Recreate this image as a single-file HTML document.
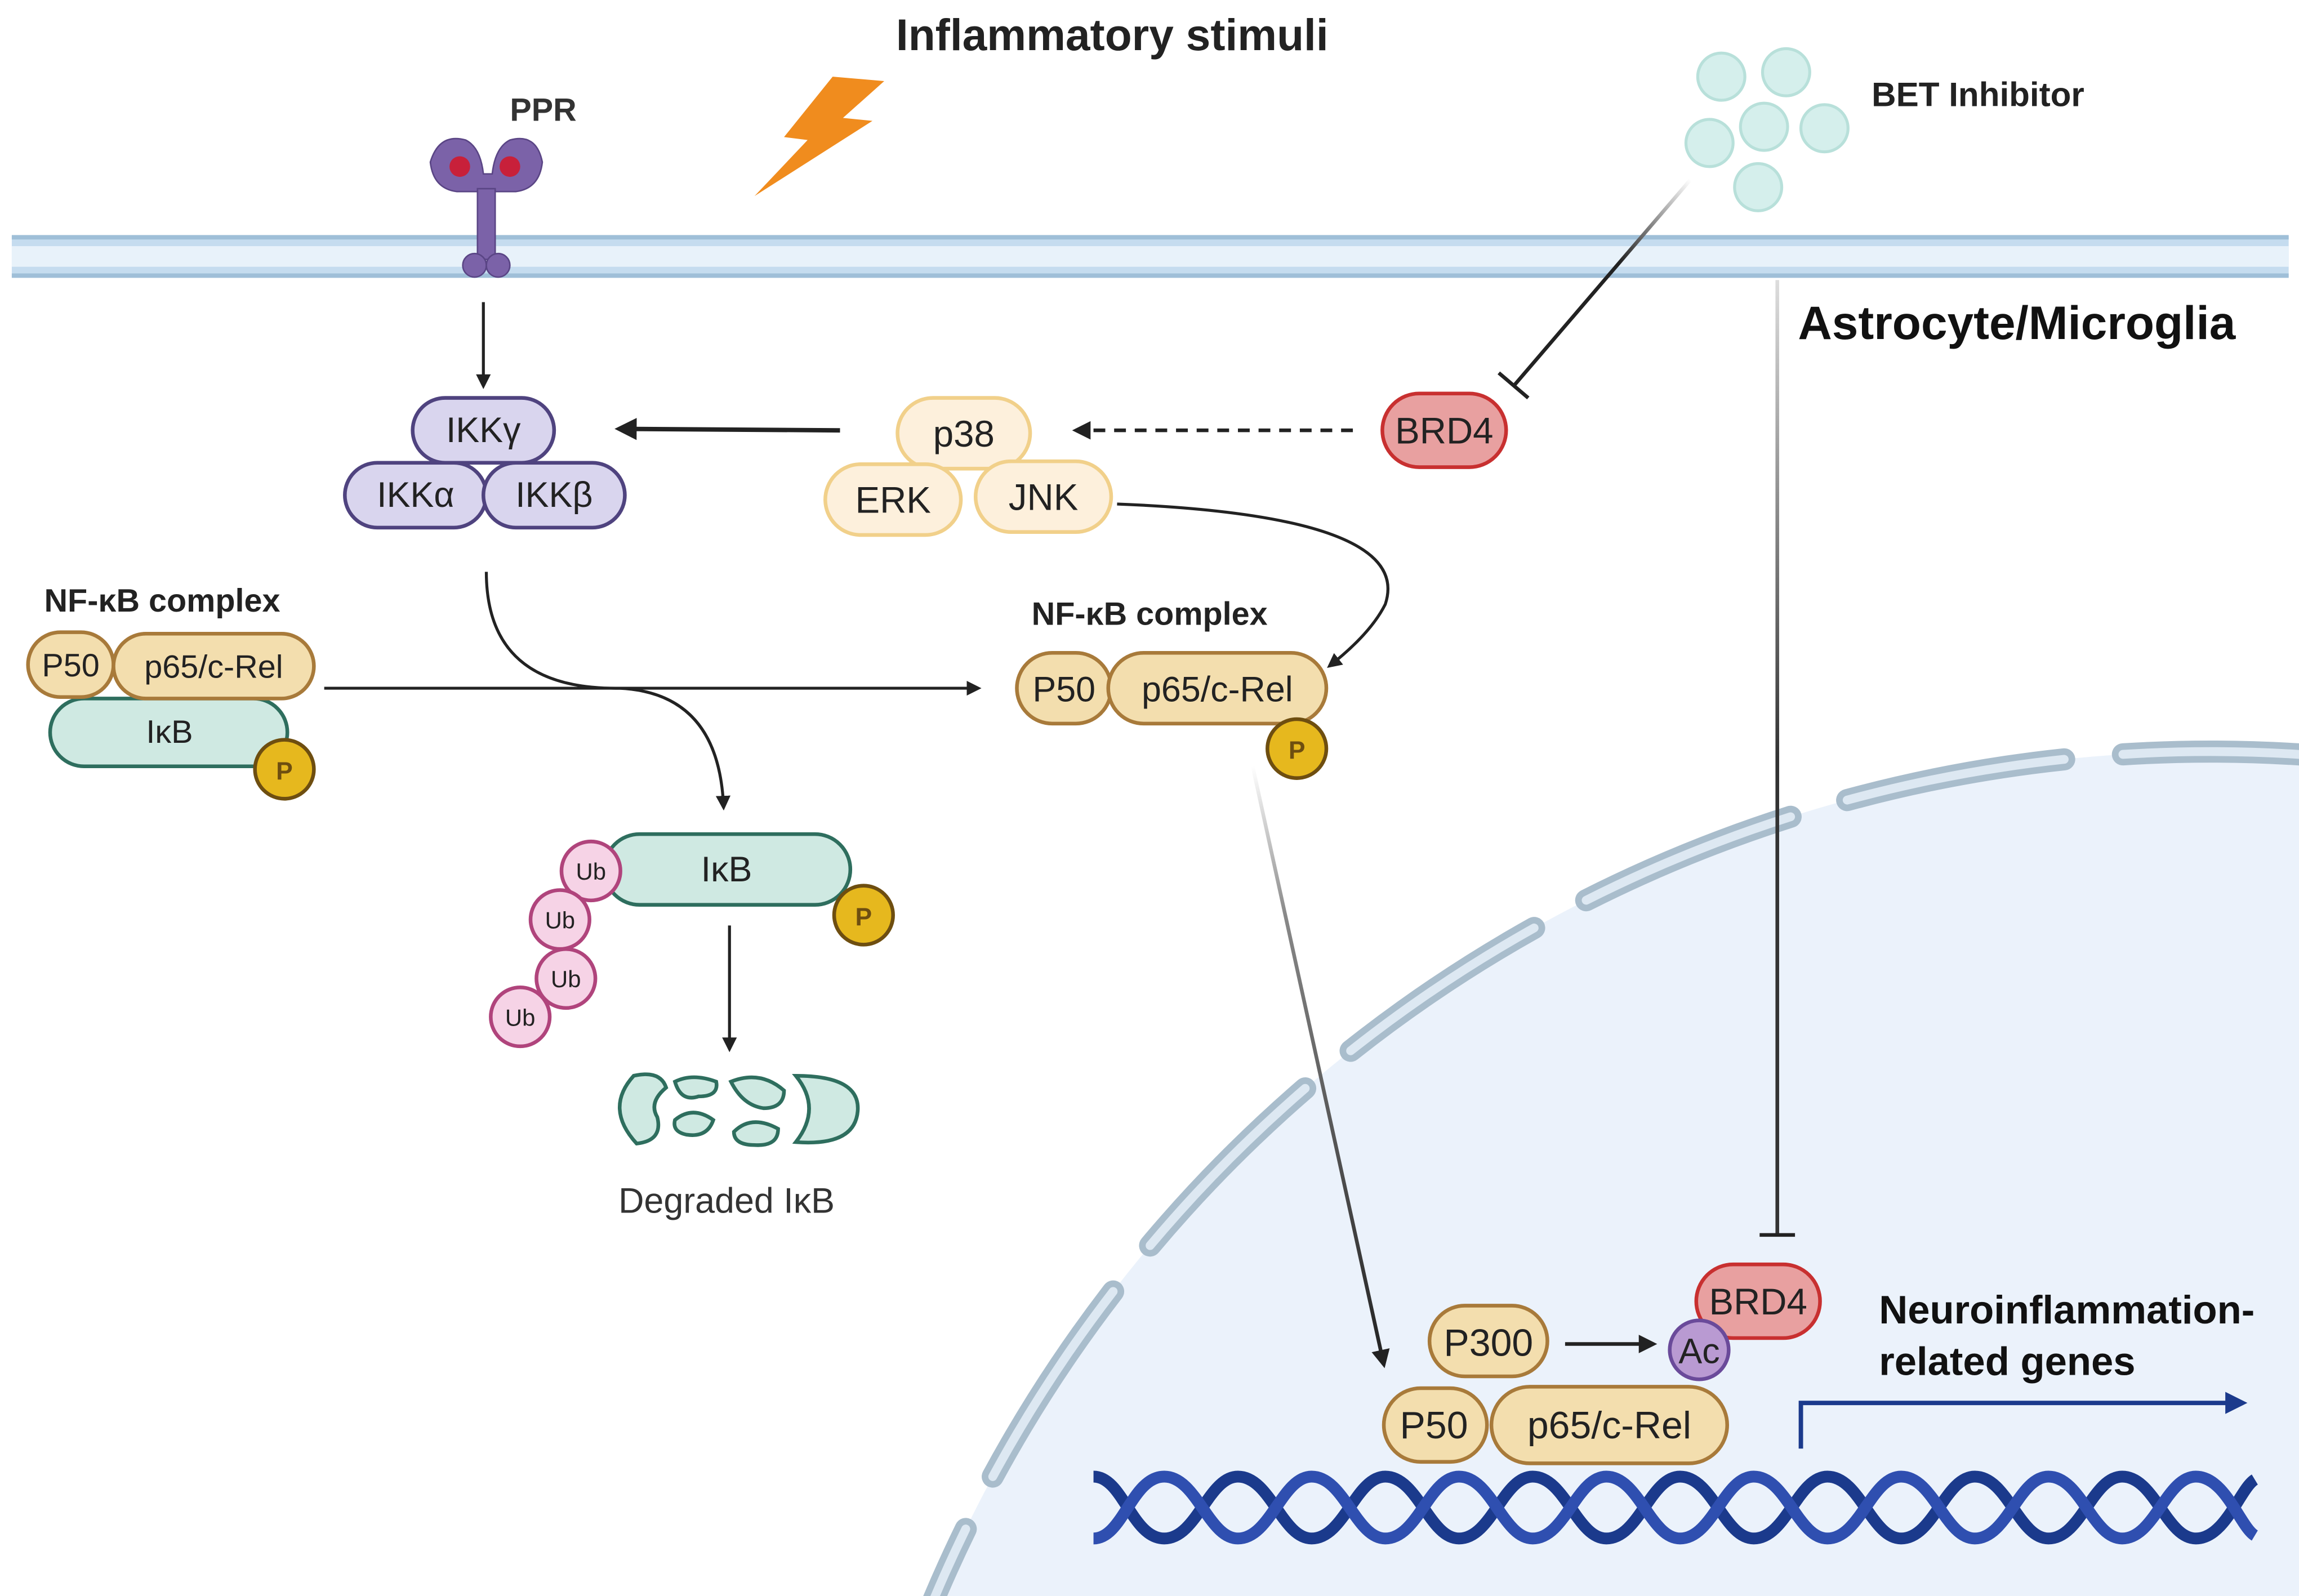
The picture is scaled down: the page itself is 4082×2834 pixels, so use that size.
<!DOCTYPE html>
<html><head><meta charset="utf-8"><style>html,body{margin:0;padding:0;background:#fff;overflow:hidden;width:4082px;height:2834px}svg{display:block}</style></head>
<body>
<svg width="4082" height="2834" viewBox="0 0 1560 1083" xmlns="http://www.w3.org/2000/svg" font-family="'Liberation Sans', 'DejaVu Sans', sans-serif">
<defs>
<marker id="ah" viewBox="0 0 10 10" refX="8" refY="5" markerWidth="5" markerHeight="5" orient="auto"><path d="M0,0 L10,5 L0,10 z" fill="#222"/></marker>
<marker id="ahb" viewBox="0 0 10 10" refX="8" refY="5" markerWidth="5" markerHeight="5" orient="auto"><path d="M0,0 L10,5 L0,10 z" fill="#1b3a8c"/></marker>
<linearGradient id="g1" gradientUnits="userSpaceOnUse" x1="1147" y1="122" x2="1027" y2="262"><stop offset="0" stop-color="#fff"/><stop offset="0.4" stop-color="#222"/></linearGradient>
<linearGradient id="g2" gradientUnits="userSpaceOnUse" x1="850" y1="520" x2="939" y2="926"><stop offset="0" stop-color="#fff"/><stop offset="0.25" stop-color="#888"/><stop offset="1" stop-color="#222"/></linearGradient>
<linearGradient id="g3" gradientUnits="userSpaceOnUse" x1="0" y1="190" x2="0" y2="838"><stop offset="0" stop-color="#ddd"/><stop offset="0.5" stop-color="#333"/></linearGradient>
</defs>
<rect width="1560" height="1083" fill="#fff"/>
<circle cx="1500" cy="1450" r="940" fill="#ebf2fb"/>
<circle cx="1500" cy="1450" r="940" fill="none" stroke="#a9bdcc" stroke-width="15" stroke-dasharray="150 40" stroke-linecap="round"/>
<circle cx="1500" cy="1450" r="940" fill="none" stroke="#dde8f2" stroke-width="6" stroke-dasharray="150 40" stroke-linecap="round"/>
<rect x="8" y="160" width="1545" height="28" fill="#c5dcef"/>
<rect x="8" y="167" width="1545" height="14" fill="#e8f2fa"/>
<line x1="8" y1="161" x2="1553" y2="161" stroke="#9fbfd8" stroke-width="3"/>
<line x1="8" y1="187" x2="1553" y2="187" stroke="#9fbfd8" stroke-width="3"/>
<g fill="#7b62a8" stroke="#5a4585" stroke-width="1">
<path d="M292,110 Q298,90 316,95 Q326,100 328,118 L334,118 Q336,100 346,95 Q364,90 368,110 Q366,128 350,130 L336,130 L334,150 L326,150 L324,130 L310,130 Q294,128 292,110z"/>
<rect x="324" y="128" width="12" height="48"/>
<ellipse cx="322" cy="180" rx="8" ry="8"/><ellipse cx="338" cy="180" rx="8" ry="8"/>
</g>
<circle cx="312" cy="113" r="7" fill="#c8203a"/><circle cx="346" cy="113" r="7" fill="#c8203a"/>
<text x="346" y="82" font-size="22" font-weight="bold" fill="#333">PPR</text>
<path d="M565,52 L600,55 L572,80 L592,82 L512,133 L548,95 L532,93 Z" fill="#f08c1e"/>
<text x="608" y="34" font-size="30" font-weight="bold" fill="#222">Inflammatory stimuli</text>
<g fill="#d5efec" stroke="#b8e0da" stroke-width="2">
<circle cx="1168" cy="52" r="16"/><circle cx="1212" cy="49" r="16"/><circle cx="1160" cy="97" r="16"/><circle cx="1197" cy="86" r="16"/><circle cx="1238" cy="87" r="16"/><circle cx="1193" cy="127" r="16"/>
</g>
<text x="1270" y="72" font-size="23" font-weight="bold" fill="#222">BET Inhibitor</text>
<text x="1220" y="230" font-size="32" font-weight="bold" fill="#111">Astrocyte/Microglia</text>
<line x1="1147" y1="122" x2="1027" y2="262" stroke="url(#g1)" stroke-width="2.5"/>
<line x1="1017" y1="253" x2="1037" y2="270" stroke="#222" stroke-width="2.5"/>
<line x1="1206" y1="190" x2="1206" y2="838" stroke="url(#g3)" stroke-width="2.5"/>
<line x1="1194" y1="838" x2="1218" y2="838" stroke="#222" stroke-width="2.5"/>
<line x1="328" y1="205" x2="328" y2="262" stroke="#222" stroke-width="2" marker-end="url(#ah)"/>
<line x1="570" y1="292" x2="420" y2="291" stroke="#222" stroke-width="3" marker-end="url(#ah)"/>
<line x1="918" y1="292" x2="730" y2="292" stroke="#222" stroke-width="2.5" stroke-dasharray="8 6" marker-end="url(#ah)"/>
<path d="M758,342 Q960,350 940,410 Q930,430 902,452" fill="none" stroke="#222" stroke-width="2" marker-end="url(#ah)"/>
<line x1="220" y1="467" x2="664" y2="467" stroke="#222" stroke-width="2" marker-end="url(#ah)"/>
<path d="M330,388 Q330,468 420,467 Q488,470 491,548" fill="none" stroke="#222" stroke-width="2" marker-end="url(#ah)"/>
<line x1="495" y1="628" x2="495" y2="712" stroke="#222" stroke-width="2" marker-end="url(#ah)"/>
<line x1="850" y1="520" x2="939" y2="926" stroke="url(#g2)" stroke-width="2.5" marker-end="url(#ah)"/>
<line x1="1062" y1="912" x2="1122" y2="912" stroke="#222" stroke-width="2.5" marker-end="url(#ah)"/>
<g fill="#d9d5ee" stroke="#4f437f" stroke-width="2.5">
<rect x="280" y="270" width="96" height="44" rx="22"/>
<rect x="234" y="314" width="96" height="44" rx="22"/>
<rect x="328" y="314" width="96" height="44" rx="22"/>
</g>
<g font-size="24" text-anchor="middle" fill="#222">
<text x="328" y="300">IKKγ</text><text x="282" y="344">IKKα</text><text x="376" y="344">IKKβ</text>
</g>
<g fill="#fdf0dc" stroke="#f1d08a" stroke-width="2.5">
<rect x="609" y="270" width="90" height="48" rx="24"/>
<rect x="560" y="315" width="92" height="48" rx="24"/>
<rect x="662" y="313" width="92" height="48" rx="24"/>
</g>
<g font-size="25" text-anchor="middle" fill="#222">
<text x="654" y="303">p38</text><text x="606" y="348">ERK</text><text x="708" y="346">JNK</text>
</g>
<rect x="938" y="267" width="84" height="50" rx="25" fill="#e8a0a0" stroke="#c83030" stroke-width="2.5"/>
<text x="980" y="301" font-size="25" text-anchor="middle" fill="#222">BRD4</text>
<text x="30" y="415" font-size="22" font-weight="bold" fill="#222">NF-κB complex</text>
<rect x="34" y="474" width="161" height="46" rx="23" fill="#cfe9e2" stroke="#2e6e5e" stroke-width="2.5"/>
<text x="115" y="504" font-size="22" text-anchor="middle" fill="#222">IκB</text>
<rect x="19" y="429" width="58" height="44" rx="22" fill="#f3deae" stroke="#a87a3a" stroke-width="2.5"/>
<rect x="77" y="430" width="136" height="44" rx="22" fill="#f3deae" stroke="#a87a3a" stroke-width="2.5"/>
<text x="48" y="459" font-size="22" text-anchor="middle" fill="#222">P50</text>
<text x="145" y="460" font-size="22" text-anchor="middle" fill="#222">p65/c-Rel</text>
<circle cx="193" cy="522" r="20" fill="#e6b81e" stroke="#6e4e10" stroke-width="2.5"/>
<text x="193" y="529" font-size="17" font-weight="bold" text-anchor="middle" fill="#6e4e10">P</text>
<text x="700" y="424" font-size="22" font-weight="bold" fill="#222">NF-κB complex</text>
<rect x="690" y="443" width="64" height="48" rx="24" fill="#f3deae" stroke="#a87a3a" stroke-width="2.5"/>
<rect x="752" y="443" width="148" height="48" rx="24" fill="#f3deae" stroke="#a87a3a" stroke-width="2.5"/>
<text x="722" y="476" font-size="24" text-anchor="middle" fill="#222">P50</text>
<text x="826" y="476" font-size="24" text-anchor="middle" fill="#222">p65/c-Rel</text>
<circle cx="880" cy="508" r="20" fill="#e6b81e" stroke="#6e4e10" stroke-width="2.5"/>
<text x="880" y="515" font-size="17" font-weight="bold" text-anchor="middle" fill="#6e4e10">P</text>
<rect x="410" y="566" width="167" height="48" rx="24" fill="#cfe9e2" stroke="#2e6e5e" stroke-width="2.5"/>
<text x="493" y="598" font-size="24" text-anchor="middle" fill="#222">IκB</text>
<circle cx="586" cy="621" r="20" fill="#e6b81e" stroke="#6e4e10" stroke-width="2.5"/>
<text x="586" y="628" font-size="17" font-weight="bold" text-anchor="middle" fill="#6e4e10">P</text>
<g fill="#f6d3e6" stroke="#b0447c" stroke-width="2.5">
<circle cx="401" cy="591" r="20"/><circle cx="380" cy="624" r="20"/><circle cx="384" cy="664" r="20"/><circle cx="353" cy="690" r="20"/>
</g>
<g font-size="16" text-anchor="middle" fill="#222">
<text x="401" y="597">Ub</text><text x="380" y="630">Ub</text><text x="384" y="670">Ub</text><text x="353" y="696">Ub</text>
</g>
<g fill="#cfe9e2" stroke="#2e6e5e" stroke-width="2.5">
<path d="M430,730 Q410,752 432,776 Q450,774 446,758 Q440,748 452,738 Q448,726 430,730z"/>
<path d="M458,734 Q470,728 486,734 Q488,744 474,744 Q462,748 458,734z"/>
<path d="M458,760 Q470,750 484,760 Q480,772 466,770 Q456,768 458,760z"/>
<path d="M496,734 Q516,726 532,740 Q532,752 518,752 Q504,750 496,734z"/>
<path d="M498,768 Q510,756 528,766 Q528,778 512,777 Q498,777 498,768z"/>
<path d="M540,730 Q584,730 582,754 Q580,778 540,775 Q558,752 540,730z"/>
</g>
<text x="493" y="823" font-size="24" text-anchor="middle" fill="#333">Degraded IκB</text>
<path d="M742,1002 C762,1002 768,1044 790,1044 C812,1044 820,1002 840,1002 C862,1002 870,1044 890,1044 C912,1044 920,1002 940,1002 C962,1002 970,1044 990,1044 C1012,1044 1020,1002 1040,1002 C1062,1002 1070,1044 1090,1044 C1112,1044 1120,1002 1140,1002 C1162,1002 1170,1044 1190,1044 C1212,1044 1220,1002 1240,1002 C1262,1002 1270,1044 1290,1044 C1312,1044 1320,1002 1340,1002 C1362,1002 1370,1044 1390,1044 C1412,1044 1420,1002 1440,1002 C1462,1002 1470,1044 1490,1044 C1510,1044 1520,1010 1530,1004" fill="none" stroke="#1b3a8c" stroke-width="8"/>
<path d="M742,1044 C762,1044 768,1002 790,1002 C812,1002 820,1044 840,1044 C862,1044 870,1002 890,1002 C912,1002 920,1044 940,1044 C962,1044 970,1002 990,1002 C1012,1002 1020,1044 1040,1044 C1062,1044 1070,1002 1090,1002 C1112,1002 1120,1044 1140,1044 C1162,1044 1170,1002 1190,1002 C1212,1002 1220,1044 1240,1044 C1262,1044 1270,1002 1290,1002 C1312,1002 1320,1044 1340,1044 C1362,1044 1370,1002 1390,1002 C1412,1002 1420,1044 1440,1044 C1462,1044 1470,1002 1490,1002 C1510,1002 1520,1036 1530,1042" fill="none" stroke="#2f4fb0" stroke-width="8"/>
<path d="M1222,983 L1222,952 L1522,952" fill="none" stroke="#1b3a8c" stroke-width="3" marker-end="url(#ahb)"/>
<text x="1275" y="898" font-size="27" font-weight="bold" fill="#111">Neuroinflammation-</text>
<text x="1275" y="933" font-size="27" font-weight="bold" fill="#111">related genes</text>
<rect x="970" y="886" width="80" height="48" rx="24" fill="#f3deae" stroke="#a87a3a" stroke-width="2.5"/>
<text x="1010" y="920" font-size="26" text-anchor="middle" fill="#222">P300</text>
<rect x="939" y="942" width="70" height="50" rx="25" fill="#f3deae" stroke="#a87a3a" stroke-width="2.5"/>
<rect x="1012" y="941" width="160" height="52" rx="26" fill="#f3deae" stroke="#a87a3a" stroke-width="2.5"/>
<text x="973" y="976" font-size="26" text-anchor="middle" fill="#222">P50</text>
<text x="1092" y="976" font-size="26" text-anchor="middle" fill="#222">p65/c-Rel</text>
<rect x="1151" y="858" width="84" height="50" rx="25" fill="#e8a0a0" stroke="#c83030" stroke-width="2.5"/>
<text x="1193" y="892" font-size="25" text-anchor="middle" fill="#222">BRD4</text>
<circle cx="1153" cy="916" r="20" fill="#b99ad2" stroke="#6a4a9a" stroke-width="2.5"/>
<text x="1153" y="925" font-size="24" text-anchor="middle" fill="#222">Ac</text>
</svg>
</body></html>
